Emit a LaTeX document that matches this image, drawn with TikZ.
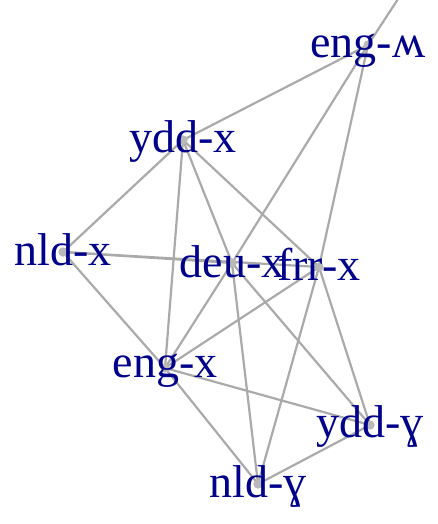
\documentclass[tikz,border=0pt]{standalone}
\usepackage{fontspec}
\setmainfont{Liberation Serif}
\usepackage{tikz}
\usetikzlibrary{arrows.meta}
\definecolor{edgegray}{RGB}{170,170,170}
\definecolor{dotgray}{RGB}{185,185,185}
\definecolor{lblblue}{RGB}{0,0,139}

\begin{document}
\begin{tikzpicture}[x=1pt, y=-1pt,
    edge/.style={draw=edgegray, line width=2.2pt},
    dot/.style={circle, fill=dotgray, inner sep=0pt, minimum size=9pt},
    lbl/.style={anchor=base, text=lblblue, inner sep=0pt, font=\fontsize{46}{50}\selectfont}]
  \useasboundingbox (0,0) rectangle (438,524);
  \clip (0,0) rectangle (438,524);

  % Sommets
  \node[dot] (engw) at (368,45) {};
  \node[dot] (yddx) at (183,140) {};
  \node[dot] (nldx) at (63,252) {};
  \node[dot] (deux) at (232,263) {};
  \node[dot] (frrx) at (319,267) {};
  \node[dot] (engx) at (165,368) {};
  \node[dot] (yddg) at (370,425) {};
  \node[dot] (nldg) at (258,484) {};
  \coordinate (out) at (430,-50);

  % Arêtes
  \draw[edge] (engw.center) -- (out);
  \draw[edge] (engw.center) -- (yddx.center);
  \draw[edge] (engw.center) -- (deux.center);
  \draw[edge] (engw.center) -- (frrx.center);
  \draw[edge] (yddx.center) -- (nldx.center);
  \draw[edge] (yddx.center) -- (engx.center);
  \draw[edge] (yddx.center) -- (deux.center);
  \draw[edge] (yddx.center) -- (frrx.center);
  \draw[edge] (nldx.center) -- (deux.center);
  \draw[edge] (nldx.center) -- (frrx.center);
  \draw[edge] (nldx.center) -- (engx.center);
  \draw[edge] (deux.center) -- (engx.center);
  \draw[edge] (deux.center) -- (nldg.center);
  \draw[edge] (deux.center) -- (yddg.center);
  \draw[edge] (frrx.center) -- (engx.center);
  \draw[edge] (frrx.center) -- (nldg.center);
  \draw[edge] (frrx.center) -- (yddg.center);
  \draw[edge] (engx.center) -- (yddg.center);
  \draw[edge] (engx.center) -- (nldg.center);
  \draw[edge] (nldg.center) -- (yddg.center);

  % Points par-dessus
  \foreach \v in {engw,yddx,nldx,deux,frrx,engx,yddg,nldg}
    \fill[dotgray] (\v.center) circle (4.5pt);

  % Etiquettes
  \node[lbl] (engwl) at ([yshift=-13pt]engw.center) {eng-ʍ};
  \node[lbl] (yddxl) at ([yshift=-12pt]yddx.center) {ydd-x};
  \node[lbl] (nldxl) at ([yshift=-13pt]nldx.center) {nld-x};
  \node[lbl] (deuxl) at ([yshift=-14pt]deux.center) {deu-x};
  \node[lbl] (frrxl) at ([yshift=-13pt]frrx.center) {frr-x};
  \node[lbl] (engxl) at ([yshift=-9pt]engx.center) {eng-x};
  \node[lbl] (yddgl) at ([yshift=-12pt]yddg.center) {ydd-ɣ};
  \node[lbl] (nldgl) at ([yshift=-13pt]nldg.center) {nld-ɣ};
\end{tikzpicture}
\end{document}
